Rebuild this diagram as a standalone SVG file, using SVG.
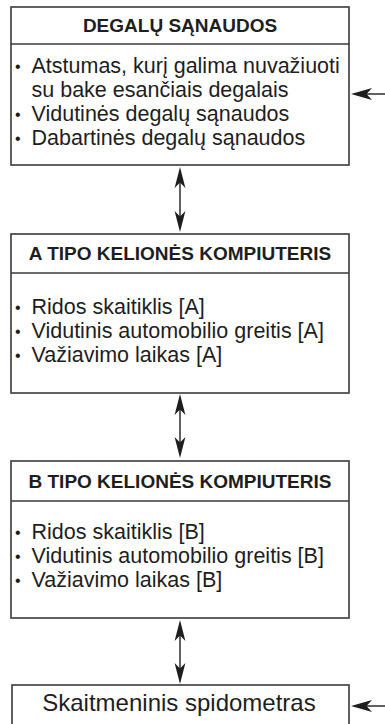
<svg xmlns="http://www.w3.org/2000/svg" width="385" height="724" viewBox="0 0 385 724">
<style>
.box{fill:#fff;stroke:#3a3a3a;stroke-width:1.6}
.div{stroke:#3a3a3a;stroke-width:1.6}
.hd{font-family:"Liberation Sans",Arial,sans-serif;font-weight:bold;font-size:19px;fill:#1e1e1e;text-anchor:middle}
.it{font-family:"Liberation Sans",Arial,sans-serif;font-size:21.5px;fill:#1e1e1e}
.bl{font-family:"Liberation Sans",Arial,sans-serif;font-size:16px;fill:#1e1e1e}
.big{font-family:"Liberation Sans",Arial,sans-serif;font-size:24px;fill:#1e1e1e;text-anchor:middle}
.sh{stroke:#1e1e1e;stroke-width:1.4;fill:none}
.ah{fill:#1e1e1e}
</style>
<defs>
<path id="hu" d="M0,0 L5.4,21 L0,15.5 L-5.4,21 Z"/>
<path id="hl" d="M0,0 L21,-6 L15.5,0 L21,6 Z"/>
</defs>
<g id="node-degalu">
<rect class="box" x="11" y="7" width="338" height="158"/>
<line class="div" x1="11" y1="44" x2="349" y2="44"/>
<text class="hd" x="180" y="32">DEGALŲ SĄNAUDOS</text>
<text class="bl" x="15" y="72">•</text><text class="it" x="31.5" y="73">Atstumas, kurį galima nuvažiuoti</text>
<text class="it" x="31.5" y="97">su bake esančiais degalais</text>
<text class="bl" x="15" y="120">•</text><text class="it" x="31.5" y="121">Vidutinės degalų sąnaudos</text>
<text class="bl" x="15" y="144">•</text><text class="it" x="31.5" y="145">Dabartinės degalų sąnaudos</text>
</g>
<g id="node-a">
<rect class="box" x="11" y="234" width="338" height="159"/>
<line class="div" x1="11" y1="273" x2="349" y2="273"/>
<text class="hd" x="180" y="260">A TIPO KELIONĖS KOMPIUTERIS</text>
<text class="bl" x="15" y="313">•</text><text class="it" x="31.5" y="314">Ridos skaitiklis [A]</text>
<text class="bl" x="15" y="337">•</text><text class="it" x="31.5" y="338">Vidutinis automobilio greitis [A]</text>
<text class="bl" x="15" y="361">•</text><text class="it" x="31.5" y="362">Važiavimo laikas [A]</text>
</g>
<g id="node-b">
<rect class="box" x="11" y="461" width="338" height="157"/>
<line class="div" x1="11" y1="501" x2="349" y2="501"/>
<text class="hd" x="180" y="488">B TIPO KELIONĖS KOMPIUTERIS</text>
<text class="bl" x="15" y="538">•</text><text class="it" x="31.5" y="539">Ridos skaitiklis [B]</text>
<text class="bl" x="15" y="562">•</text><text class="it" x="31.5" y="563">Vidutinis automobilio greitis [B]</text>
<text class="bl" x="15" y="586">•</text><text class="it" x="31.5" y="587">Važiavimo laikas [B]</text>
</g>
<g id="node-spidometras">
<rect class="box" x="12" y="685" width="337" height="50"/>
<text class="big" x="179" y="711">Skaitmeninis spidometras</text>
</g>
<g id="connectors">
<line class="sh" x1="180" y1="180" x2="180" y2="220"/>
<use href="#hu" class="ah" transform="translate(180,167)"/>
<use href="#hu" class="ah" transform="translate(180,232) rotate(180)"/>
<line class="sh" x1="180" y1="406" x2="180" y2="446"/>
<use href="#hu" class="ah" transform="translate(180,394)"/>
<use href="#hu" class="ah" transform="translate(180,458) rotate(180)"/>
<line class="sh" x1="180" y1="632" x2="180" y2="672"/>
<use href="#hu" class="ah" transform="translate(180,620)"/>
<use href="#hu" class="ah" transform="translate(180,684) rotate(180)"/>
<line class="sh" x1="366" y1="94" x2="385" y2="94"/>
<use href="#hl" class="ah" transform="translate(351,94)"/>
<line class="sh" x1="366" y1="706" x2="385" y2="706"/>
<use href="#hl" class="ah" transform="translate(351,706)"/>
</g>
</svg>
